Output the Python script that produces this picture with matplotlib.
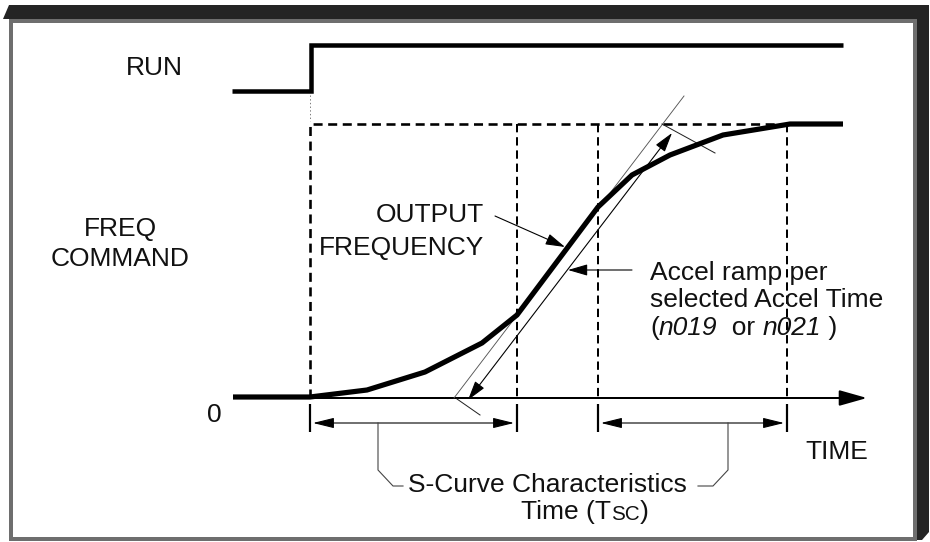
import matplotlib
matplotlib.use("Agg")
import matplotlib.pyplot as plt
from matplotlib.patches import Polygon, Rectangle, FancyArrowPatch

plt.rcParams['font.family'] = ['Liberation Sans', 'DejaVu Sans']
plt.rcParams['lines.scale_dashes'] = False

# --- canvas in pixel units, y grows downwards ---
W, H = 930, 542
PX = 0.72          # points per pixel at dpi 100

# --- RUN signal ---
run_t = [232, 311, 311, 843]
run_y = [91, 91, 45, 45]

# --- output frequency (S-curve) ---
out_t = [233, 310, 367, 425, 482, 517, 598, 632, 670, 723, 790, 843]
out_f = [397, 397, 390, 372, 343, 315, 207, 175, 155, 135, 124, 124]

# --- levels and marker times ---
f_zero = 398
f_cmd = 124
t_start = 310
t_marks = [310, 517, 598, 787]
t_axis_end = 867
t_cmd_end = 790

# --- linear accel ramp (reference line + measuring arrow) ---
ramp_t = [454, 684]
ramp_f = [398, 96]
ramp_arrow_t = [468, 672]
ramp_arrow_f = [400, 133]
ramp_tick_top_t = [662, 715]
ramp_tick_top_f = [124, 153]
ramp_tick_bot_t = [457, 480]
ramp_tick_bot_f = [399, 415]

# --- S-curve time brackets ---
tsc_y = 423
brk_left_t = [378, 378, 393, 403]
brk_right_t = [728, 728, 713, 698]
brk_f = [423, 470, 486, 486]


def arrow(ax, p0, p1, style, lw=1.0, hl=12, hw=4, color='black'):
    a = FancyArrowPatch(p0, p1, arrowstyle=f'{style},head_length={hl},head_width={hw}',
                        lw=lw, color=color, shrinkA=0, shrinkB=0)
    ax.add_patch(a)


fig = plt.figure(figsize=(W / 100, H / 100), dpi=100)
ax = fig.add_axes([0, 0, 1, 1])
ax.set_xlim(0, W)
ax.set_ylim(H, 0)
ax.axis('off')

# frame
dark = '#242424'
ax.add_patch(Polygon([(3, 19), (9, 5), (929, 5), (929, 19)], closed=True, color=dark, lw=0))
ax.add_patch(Polygon([(916, 5), (929, 5), (929, 532), (922, 540), (916, 540)],
                     closed=True, color=dark, lw=0))
ax.add_patch(Rectangle((10.5, 20.5), 904.5, 518.5, facecolor='white',
                       edgecolor='#6e6e6e', lw=4 * PX))

# RUN signal
ax.plot(run_t, run_y, color='black', lw=4.5 * PX, solid_joinstyle='miter',
        solid_capstyle='butt')
ax.plot([t_start, t_start], [95, 121], color='#666666', lw=0.6, ls=':')

# dashed command box
ax.plot([t_start, t_start, t_cmd_end], [f_zero, f_cmd, f_cmd], color='black',
        lw=2.6 * PX, ls=(0, (6.5, 4)), solid_joinstyle='miter')
ax.vlines(t_marks[1:], f_cmd, f_zero, color='black', lw=2 * PX, linestyles=[(0, (6, 3.5))])

# time axis
arrow(ax, (t_start, f_zero), (t_axis_end, f_zero), '-|>', lw=2 * PX, hl=17, hw=4.8)
ax.vlines(t_marks, 404, 432, color='black', lw=2.2 * PX)

# S-curve characteristic time arrows
arrow(ax, (t_marks[0] + 3, tsc_y), (t_marks[1] - 3, tsc_y), '<|-|>', lw=1.1 * PX, hl=13, hw=3.2)
arrow(ax, (t_marks[2] + 3, tsc_y), (t_marks[3] - 3, tsc_y), '<|-|>', lw=1.1 * PX, hl=13, hw=3.2)
ax.plot(brk_left_t, brk_f, color='#444444', lw=1.1 * PX)
ax.plot(brk_right_t, brk_f, color='#444444', lw=1.1 * PX)

# accel ramp
ax.plot(ramp_t, ramp_f, color='#555555', lw=0.9 * PX)
arrow(ax, (ramp_arrow_t[0], ramp_arrow_f[0]), (ramp_arrow_t[1], ramp_arrow_f[1]), '<|-|>',
      lw=1.1 * PX, hl=12, hw=3.5)
ax.plot(ramp_tick_top_t, ramp_tick_top_f, color='#222222', lw=1 * PX)
ax.plot(ramp_tick_bot_t, ramp_tick_bot_f, color='#222222', lw=1 * PX)

# output frequency curve
ax.plot(out_t, out_f, color='black', lw=5.2 * PX, solid_joinstyle='miter',
        solid_capstyle='butt')

# pointer arrows
arrow(ax, (495, 216), (565, 247), '-|>', lw=1.1 * PX, hl=12, hw=3.5)
arrow(ax, (632, 270), (568, 270), '-|>', lw=1.1 * PX, hl=12, hw=3.5)

# texts
fs = 19
tk = dict(fontsize=fs, color='#111111')
ax.text(183, 68, 'RUN', ha='right', va='center', **tk)
ax.text(120, 229, 'FREQ', ha='center', va='center', **tk)
ax.text(120, 259, 'COMMAND', ha='center', va='center', **tk)
ax.text(222, 415, '0', ha='right', va='center', **tk)
ax.text(484, 215, 'OUTPUT', ha='right', va='center', **tk)
ax.text(484, 248, 'FREQUENCY', ha='right', va='center', **tk)
ax.text(868, 452, 'TIME', ha='right', va='center', **tk)

ax.text(650, 273, 'Accel ramp per', ha='left', va='center', **tk)
ax.text(650, 300, 'selected Accel Time', ha='left', va='center', **tk)
t0 = ax.text(650, 328, '(', ha='left', va='center', **tk)
t1 = ax.annotate('n019', xy=(1, 0), xycoords=t0, va='bottom', style='italic', **tk)
t2 = ax.annotate('  or ', xy=(1, 0), xycoords=t1, va='bottom', **tk)
t3 = ax.annotate('n021', xy=(1, 0), xycoords=t2, va='bottom', style='italic', **tk)
ax.annotate(' )', xy=(1, 0), xycoords=t3, va='bottom', **tk)

ax.text(408, 485, 'S-Curve Characteristics', ha='left', va='center', **tk)
s0 = ax.text(521, 512, 'Time (T', ha='left', va='center', **tk)
s1 = ax.annotate('SC', xy=(1, 0), xycoords=s0, va='bottom', fontsize=fs * 0.78,
                 color='#111111')
ax.annotate(')', xy=(1, 0), xycoords=s1, va='bottom', **tk)

fig.savefig('out.png', dpi=100)
